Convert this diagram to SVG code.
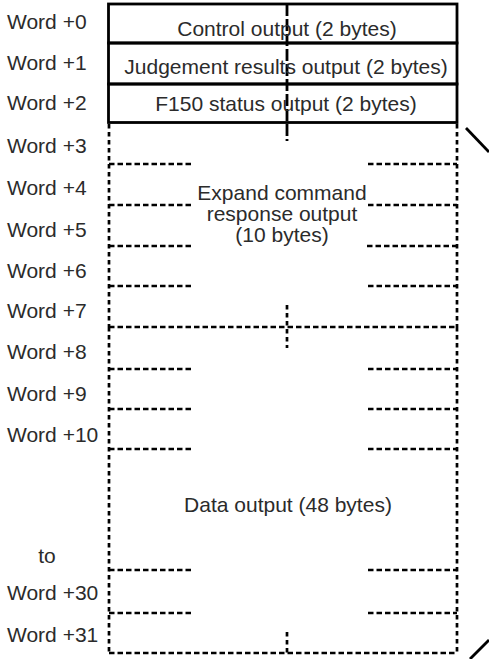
<svg xmlns="http://www.w3.org/2000/svg" width="489" height="659" viewBox="0 0 489 659">
<style>
text{font-family:"Liberation Sans",Arial,sans-serif;font-size:21px;fill:#2b2b2b}
.m{text-anchor:middle}
.solid{stroke:#000;stroke-width:2.8;fill:none}
.hd{stroke:#000;stroke-width:2.7;fill:none;stroke-dasharray:5.5 3}
.vd{stroke:#000;stroke-width:2.7;fill:none;stroke-dasharray:4.5 3.5}
.cd{stroke:#000;stroke-width:2.8;fill:none;stroke-dasharray:12 3}
</style>
<rect width="489" height="659" fill="#fff"/>
<g id="labels">
<text x="7" y="29">Word +0</text>
<text x="7" y="70">Word +1</text>
<text x="7" y="110">Word +2</text>
<text x="7" y="153">Word +3</text>
<text x="7" y="195">Word +4</text>
<text x="7" y="237">Word +5</text>
<text x="7" y="278">Word +6</text>
<text x="7" y="318">Word +7</text>
<text x="7" y="359">Word +8</text>
<text x="7" y="401">Word +9</text>
<text x="7" y="442">Word +10</text>
<text x="47" y="563" class="m">to</text>
<text x="7" y="600">Word +30</text>
<text x="7" y="642">Word +31</text>
</g>
<g id="connectors">
<line class="cd" x1="287" y1="4" x2="287" y2="141"/>
<line class="vd" x1="287" y1="305" x2="287" y2="348"/>
<line class="vd" x1="287" y1="632" x2="287" y2="653"/>
<line class="solid" x1="466" y1="128" x2="489" y2="152" stroke-width="2.2"/>
<line class="solid" x1="470" y1="659" x2="489" y2="640" stroke-width="2.2"/>
</g>
<g id="control-output">
<rect class="solid" x="108.5" y="4" width="348.5" height="39"/>
<text x="287" y="36" class="m">Control output (2 bytes)</text>
</g>
<g id="judgement-output">
<rect class="solid" x="108.5" y="43" width="348.5" height="41"/>
<text x="286" y="74" class="m">Judgement results output (2 bytes)</text>
</g>
<g id="status-output">
<rect class="solid" x="108.5" y="84" width="348.5" height="38.5"/>
<text x="286" y="111" class="m">F150 status output (2 bytes)</text>
</g>
<g id="expand-command-output">
<line class="vd" x1="109" y1="124" x2="109" y2="327"/>
<line class="vd" x1="457" y1="124" x2="457" y2="327"/>
<path class="hd" d="M109 164H193M368 164H457M109 205H193M368 205H457M109 246H193M367 246H457M109 286H193M368 286H457"/>
<line class="hd" x1="109" y1="327" x2="457" y2="327"/>
<text x="282" y="200" class="m">Expand command</text>
<text x="282" y="221" class="m">response output</text>
<text x="282" y="242" class="m">(10 bytes)</text>
</g>
<g id="data-output">
<line class="vd" x1="109" y1="327" x2="109" y2="653"/>
<line class="vd" x1="457" y1="327" x2="457" y2="653"/>
<path class="hd" d="M109 369H193M368 369H457M109 409H193M368 409H457M109 449H193M368 449H457M109 570H193M368 570H457M109 613H193M368 613H457"/>
<line class="hd" x1="109" y1="653" x2="457" y2="653"/>
<text x="288" y="512" class="m">Data output (48 bytes)</text>
</g>
</svg>
